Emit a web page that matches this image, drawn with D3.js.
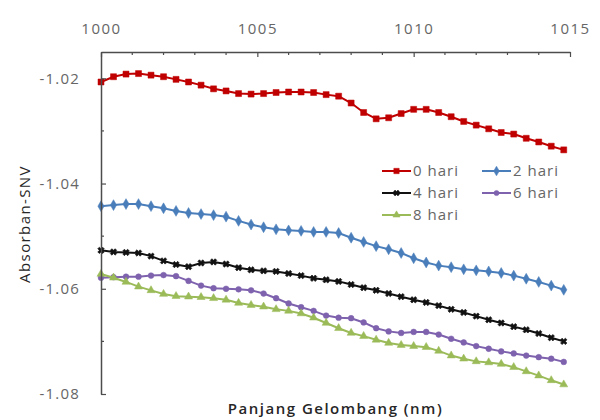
<!DOCTYPE html>
<html>
<head>
<meta charset="utf-8">
<script src="https://cdn.jsdelivr.net/npm/d3@7"></script>
<style>
  html, body { margin: 0; padding: 0; background: #fff; }
  svg { display: block; }
  text { font-family: "Open Sans", "DejaVu Sans", sans-serif; }
</style>
</head>
<body>
<svg id="chart" width="600" height="420"></svg>
<script>
// Wavelength grid (nm)
const wavelengths = [
  1000.0, 1000.4, 1000.8, 1001.2, 1001.6, 1002.0, 1002.4, 1002.8, 1003.2, 1003.6,
  1004.0, 1004.4, 1004.8, 1005.2, 1005.6, 1006.0, 1006.4, 1006.8, 1007.2, 1007.6,
  1008.0, 1008.4, 1008.8, 1009.2, 1009.6, 1010.0, 1010.4, 1010.8, 1011.2, 1011.6,
  1012.0, 1012.4, 1012.8, 1013.2, 1013.6, 1014.0, 1014.4, 1014.8
];

// SNV-corrected absorbance per storage day
const hari0 = [
  -1.0207, -1.0197, -1.0192, -1.0191, -1.0194, -1.0197, -1.0202, -1.0207, -1.0213, -1.0220,
  -1.0224, -1.0229, -1.0230, -1.0229, -1.0227, -1.0226, -1.0226, -1.0227, -1.0231, -1.0234,
  -1.0247, -1.0265, -1.0277, -1.0275, -1.0267, -1.0259, -1.0259, -1.0265, -1.0273, -1.0282,
  -1.0289, -1.0296, -1.0303, -1.0306, -1.0314, -1.0321, -1.0329, -1.0336
];
const hari2 = [
  -1.0443, -1.0441, -1.0439, -1.0439, -1.0443, -1.0447, -1.0452, -1.0456, -1.0458, -1.0460,
  -1.0463, -1.0471, -1.0478, -1.0483, -1.0487, -1.0489, -1.0490, -1.0492, -1.0492, -1.0494,
  -1.0503, -1.0511, -1.0519, -1.0525, -1.0532, -1.0542, -1.0550, -1.0556, -1.0559, -1.0563,
  -1.0565, -1.0567, -1.0570, -1.0575, -1.0581, -1.0587, -1.0594, -1.0602
];
const hari4 = [
  -1.0527, -1.0530, -1.0531, -1.0532, -1.0538, -1.0547, -1.0554, -1.0558, -1.0551, -1.0549,
  -1.0553, -1.0560, -1.0564, -1.0566, -1.0567, -1.0571, -1.0575, -1.0580, -1.0583, -1.0586,
  -1.0592, -1.0598, -1.0603, -1.0609, -1.0615, -1.0621, -1.0626, -1.0632, -1.0639, -1.0645,
  -1.0652, -1.0659, -1.0665, -1.0672, -1.0678, -1.0685, -1.0693, -1.0700
];
const hari6 = [
  -1.0579, -1.0578, -1.0577, -1.0577, -1.0575, -1.0574, -1.0576, -1.0585, -1.0594, -1.0599,
  -1.0600, -1.0601, -1.0603, -1.0609, -1.0618, -1.0628, -1.0635, -1.0642, -1.0651, -1.0655,
  -1.0656, -1.0664, -1.0675, -1.0681, -1.0684, -1.0682, -1.0682, -1.0687, -1.0695, -1.0702,
  -1.0709, -1.0714, -1.0719, -1.0723, -1.0727, -1.0730, -1.0733, -1.0739
];
const hari8 = [
  -1.0572, -1.0579, -1.0587, -1.0596, -1.0603, -1.0610, -1.0614, -1.0615, -1.0616, -1.0618,
  -1.0621, -1.0627, -1.0631, -1.0634, -1.0639, -1.0642, -1.0647, -1.0655, -1.0665, -1.0675,
  -1.0684, -1.0690, -1.0697, -1.0703, -1.0707, -1.0709, -1.0711, -1.0718, -1.0727, -1.0733,
  -1.0738, -1.0740, -1.0743, -1.0749, -1.0757, -1.0765, -1.0774, -1.0782
];

const seriesNames = ["0 hari", "2 hari", "4 hari", "6 hari", "8 hari"];
const seriesValues = [hari0, hari2, hari4, hari6, hari8];

const xTicks = [1000, 1005, 1010, 1015];
const yTicks = [-1.02, -1.04, -1.06, -1.08];

const styles = [
  { color: "#C00000", symbol: d3.symbolSquare, size: 36 },
  { color: "#4A7EBB", symbol: d3.symbolDiamond, size: 34 },
  { color: "#111111", symbol: d3.symbolCross, size: 26, rotate: 45 },
  { color: "#7E62AE", symbol: d3.symbolCircle, size: 26 },
  { color: "#9BBB59", symbol: d3.symbolTriangle, size: 28 }
];

const svg = d3.select("#chart");
const margin = { left: 101, right: 30, top: 52, bottom: 26 };
const W = 600, H = 420;

const x = d3.scaleLinear().domain([1000, 1015]).range([margin.left, W - margin.right]);
const y = d3.scaleLinear().domain([-1.08, -1.015]).range([H - margin.bottom, margin.top]);

const axisColor = "#4d4d4d";
const labelColor = "#666666";

// Series lines and markers
const line = d3.line().x((d, i) => x(wavelengths[i])).y(d => y(d));

seriesValues.forEach((vals, s) => {
  const st = styles[s];
  const g = svg.append("g");
  g.append("path")
    .attr("d", line(vals))
    .attr("fill", "none")
    .attr("stroke", st.color)
    .attr("stroke-width", 2);
  g.selectAll("path.m")
    .data(vals)
    .join("path")
    .attr("class", "m")
    .attr("d", d3.symbol().type(st.symbol).size(st.size))
    .attr("transform", (d, i) => `translate(${x(wavelengths[i])},${y(d)}) rotate(${st.rotate || 0})`)
    .attr("fill", st.color)
    .attr("stroke", st.color)
    .attr("stroke-width", st.symbol === d3.symbolCross ? 0.6 : 0.5);
});

// Top x-axis
const xAxis = d3.axisTop(x)
  .tickValues(xTicks)
  .tickFormat(d3.format("d"))
  .tickSizeInner(-5)
  .tickSizeOuter(0)
  .tickPadding(18);
const gx = svg.append("g").attr("transform", `translate(0,${y(-1.015)})`).call(xAxis);
gx.select(".domain").attr("stroke", axisColor).attr("stroke-width", 1.5);
gx.selectAll(".tick line").attr("stroke", axisColor).attr("stroke-width", 1.2);
gx.selectAll(".tick text")
  .attr("fill", labelColor)
  .style("font-size", "15px")
  .style("letter-spacing", "1.5px");

// minor x ticks every nm
svg.append("g").selectAll("line")
  .data(d3.range(1001, 1015).filter(v => !xTicks.includes(v)))
  .join("line")
  .attr("x1", d => x(d)).attr("x2", d => x(d))
  .attr("y1", y(-1.015)).attr("y2", y(-1.015) + 3)
  .attr("stroke", axisColor).attr("stroke-width", 1.2);

// Left y-axis (plain hyphen for the minus sign)
const yAxis = d3.axisLeft(y)
  .tickValues(yTicks)
  .tickFormat(d => d.toFixed(2))
  .tickSizeInner(-5)
  .tickSizeOuter(0)
  .tickPadding(21);
const gy = svg.append("g").attr("transform", `translate(${margin.left},0)`).call(yAxis);
gy.select(".domain").attr("stroke", axisColor).attr("stroke-width", 1.5);
gy.selectAll(".tick line").attr("stroke", axisColor).attr("stroke-width", 1.2);
gy.selectAll(".tick text")
  .attr("fill", labelColor)
  .style("font-size", "15px")
  .style("letter-spacing", "1.2px");

// minor y ticks
svg.append("g").selectAll("line")
  .data([-1.03, -1.05, -1.07])
  .join("line")
  .attr("x1", margin.left).attr("x2", margin.left + 3)
  .attr("y1", d => y(d)).attr("y2", d => y(d))
  .attr("stroke", axisColor).attr("stroke-width", 1.2);

// Axis titles
svg.append("text")
  .attr("x", (x.range()[0] + x.range()[1]) / 2)
  .attr("y", 414)
  .attr("text-anchor", "middle")
  .attr("fill", "#262626")
  .style("font-size", "15px")
  .style("font-weight", "600")
  .style("letter-spacing", "1.5px")
  .text("Panjang Gelombang (nm)");

svg.append("text")
  .attr("transform", "translate(30,224) rotate(-90)")
  .attr("text-anchor", "middle")
  .attr("fill", "#262626")
  .style("font-size", "15px")
  .style("letter-spacing", "1.4px")
  .text("Absorban-SNV");

// Legend
const legendPos = [
  { lx: 382, ly: 171 }, { lx: 482, ly: 171 },
  { lx: 382, ly: 193 }, { lx: 482, ly: 193 },
  { lx: 382, ly: 215 }
];
const legend = svg.append("g");
seriesNames.forEach((name, s) => {
  const st = styles[s];
  const p = legendPos[s];
  const g = legend.append("g").attr("transform", `translate(${p.lx},${p.ly})`);
  g.append("line").attr("x1", 0).attr("x2", 29).attr("y1", 0).attr("y2", 0)
    .attr("stroke", st.color).attr("stroke-width", 2);
  g.append("path")
    .attr("d", d3.symbol().type(st.symbol).size(st.size * 0.8))
    .attr("transform", `translate(14.5,0) rotate(${st.rotate || 0})`)
    .attr("fill", st.color).attr("stroke", st.color).attr("stroke-width", 0.5);
  g.append("text")
    .attr("x", 31).attr("y", 0).attr("dy", "0.35em")
    .attr("fill", labelColor)
    .style("font-size", "15px")
    .style("letter-spacing", "1px")
    .text(name);
});
</script>
</body>
</html>
